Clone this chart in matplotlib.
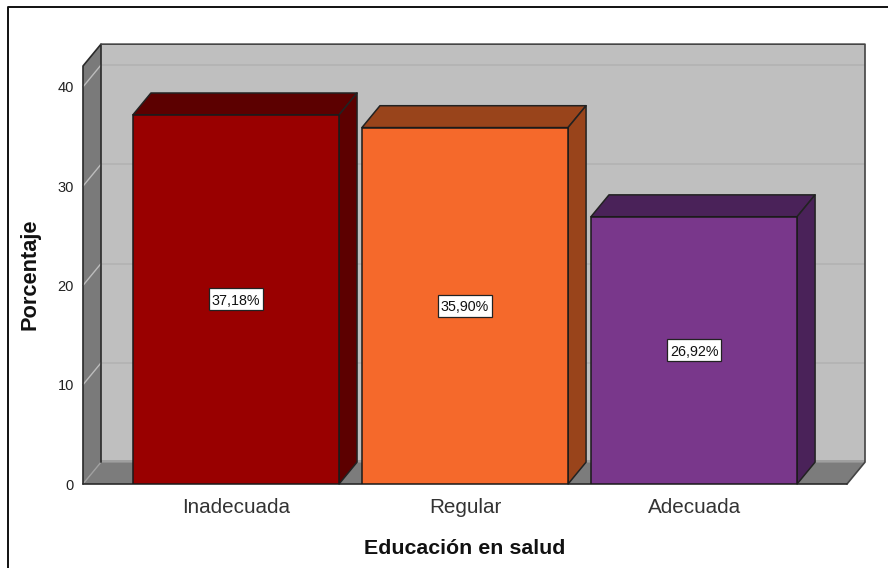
import matplotlib
matplotlib.use('Agg')
import matplotlib.pyplot as plt
from matplotlib.patches import Polygon, Rectangle

plt.rcParams['font.family'] = ['Liberation Sans', 'DejaVu Sans']

categories = ['Inadecuada', 'Regular', 'Adecuada']
values = [37.18, 35.90, 26.92]
value_labels = ['37,18%', '35,90%', '26,92%']
front_colors = ['#990000', '#F5692B', '#79378B']
top_colors = ['#5C0000', '#99441B', '#4A2259']
y_ticks = [0, 10, 20, 30, 40]

# depth of the fake 3d, in data units
dx = 18 / 229
dy = 2.2
bar_width = 0.9
ymax = 42.1
xmin = -0.668
xmax = 2.668
# label box size, data units
box_w = 54 / 229
box_h = 22 / 9.93

fig = plt.figure(figsize=(8.88, 5.68), dpi=100)
ax = fig.add_axes([83 / 888, 1 - 484 / 568, (847 - 83) / 888, (484 - 66) / 568])
ax.set_xlim(xmin, xmax)
ax.set_ylim(0, ymax)
for s in ax.spines.values():
    s.set_visible(False)
ax.patch.set_visible(False)


def face(pts, color, z=1, lw=1.2, edge='#222222'):
    ax.add_patch(Polygon(pts, closed=True, facecolor=color, edgecolor=edge,
                         linewidth=lw, clip_on=False, zorder=z, joinstyle='round'))


def edge_line(xs, ys, color='#2A2A2A', lw=1.2, z=3):
    ax.plot(xs, ys, color=color, lw=lw, clip_on=False, zorder=z, solid_capstyle='round')


# walls and floor
face([(xmin + dx, dy), (xmax + dx, dy), (xmax + dx, ymax + dy), (xmin + dx, ymax + dy)], '#BFBFBF', edge='none')
face([(xmin, 0), (xmin + dx, dy), (xmin + dx, ymax + dy), (xmin, ymax)], '#7A7A7A', edge='none')
face([(xmin, 0), (xmax, 0), (xmax + dx, dy), (xmin + dx, dy)], '#7C7C7C', edge='none')

for t in y_ticks:
    if t > 0:
        ax.plot([xmin + dx, xmax + dx], [t + dy, t + dy], color='#B3B3B3', lw=1.3,
                clip_on=False, zorder=2, solid_capstyle='butt')
        ax.plot([xmin, xmin + dx], [t, t + dy], color='#BDBDBD', lw=1,
                clip_on=False, zorder=2)
ax.plot([xmin, xmin + dx], [0, dy], color='#A0A0A0', lw=1, clip_on=False, zorder=2)
ax.plot([xmin + dx, xmax + dx], [dy + 0.1, dy + 0.1], color='#9C9C9C', lw=1.3,
        clip_on=False, zorder=2, solid_capstyle='butt')

edge_line([xmin, xmin, xmin + dx, xmin + dx], [0, ymax, ymax + dy, dy])
edge_line([xmin + dx, xmax + dx, xmax + dx, xmax], [ymax + dy, ymax + dy, dy, 0], color='#444444')
edge_line([xmin, xmax], [0, 0])

# bars
x_pos = range(len(categories))
ax.bar(x_pos, values, width=bar_width, color=front_colors, edgecolor='#1A1A1A',
       linewidth=1.1, zorder=5)
for i, v in enumerate(values):
    x0 = i - bar_width / 2
    x1 = i + bar_width / 2
    face([(x0, v), (x0 + dx, v + dy), (x1 + dx, v + dy), (x1, v)], top_colors[i], z=4, lw=1.1)
    face([(x1, 0), (x1 + dx, dy), (x1 + dx, v + dy), (x1, v)], top_colors[i], z=4, lw=1.1)
    ax.add_patch(Rectangle((i - box_w / 2, v / 2 - box_h / 2), box_w, box_h, facecolor='white',
                           edgecolor='#222222', linewidth=0.9, zorder=6))
    ax.text(i, v / 2, value_labels[i], ha='center', va='center_baseline', fontsize=10.3,
            color='#111111', zorder=7)

ax.set_xticks(list(x_pos))
ax.set_xticklabels(categories, fontsize=14.9, color='#333333')
ax.set_yticks(y_ticks)
ax.set_yticklabels([str(t) for t in y_ticks], fontsize=10.5, color='#222222', va='center_baseline')
ax.tick_params(axis='both', length=0)
ax.tick_params(axis='x', pad=10)
ax.tick_params(axis='y', pad=6.5)

fig.text(465 / 888, 1 - 548 / 568, 'Educación en salud', fontsize=15.4, fontweight='bold',
         ha='center', va='center', color='#111111')
fig.text(30 / 888, 1 - 274.5 / 568, 'Porcentaje', fontsize=15.7, fontweight='bold',
         rotation=90, ha='center', va='center', color='#111111')

# outer frame, open at the bottom and the right
fig.add_artist(plt.Line2D([8 / 888, 8 / 888, 1], [0, 1 - 7 / 568, 1 - 7 / 568],
                          color='#111111', lw=1.4))

fig.savefig('out.png', dpi=100)
